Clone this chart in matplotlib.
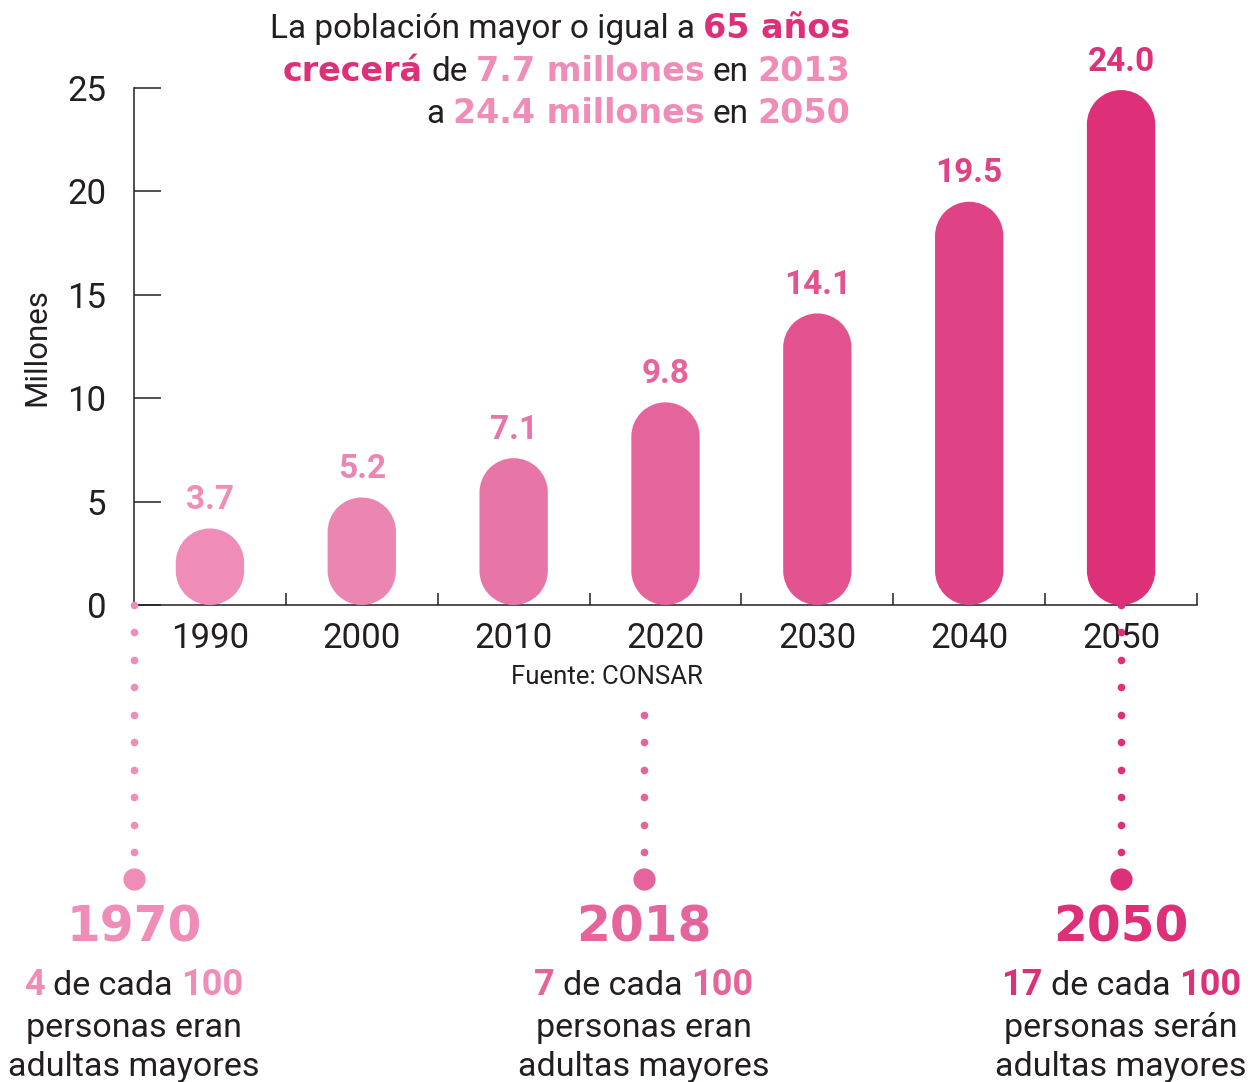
import numpy as np
import matplotlib.pyplot as plt
from matplotlib.path import Path
from matplotlib.patches import PathPatch

# data
years = ['1990', '2000', '2010', '2020', '2030', '2040', '2050']
heights = [3.7, 5.2, 7.1, 9.8, 14.1, 19.5, 24.9]   # bar tops as drawn
labels = ['3.7', '5.2', '7.1', '9.8', '14.1', '19.5', '24.0']
bar_colors = ['#ef8db8', '#eb85b1', '#e875a7', '#e5649c', '#e25390', '#df4385', '#dd3079']
yticks = [0, 5, 10, 15, 20, 25]

note_years = ['1970', '2018', '2050']
note_counts = ['4', '7', '17']
note_verbs = ['eran', 'eran', 'serán']
note_colors = ['#ef8db8', '#e5649c', '#dd3079']

DARK = '#231f20'
PINK_L = '#ef8db8'
PINK_D = '#dd3079'
REG = ['Roboto', 'DejaVu Sans']
WIDE_B = ['DejaVu Sans']
BOLD_N = ['Roboto', 'DejaVu Sans']

plt.rcParams['font.family'] = REG

W, H = 1259, 1082
fig = plt.figure(figsize=(W / 100, H / 100), dpi=100)
ax = fig.add_axes([134 / W, 1 - 605 / H, (1197 - 134) / W, (605 - 88) / H])
ax.set_xlim(-0.5, len(years) - 0.5)
ax.set_ylim(0, 25)

# capsule bars
bw = 0.45
bb = ax.get_window_extent()
px_x = bb.width / len(years)
px_y = bb.height / 25
top_arc = Path.arc(0, 180)
bot_arc = Path.arc(180, 360)
for i, (h, c) in enumerate(zip(heights, bar_colors)):
    rx = bw / 2
    ry = rx * px_x / px_y
    vt = top_arc.vertices * [rx, ry] + [i, h - ry]
    vb = bot_arc.vertices * [rx, ry] + [i, ry]
    verts = np.vstack([vt, vb, vt[:1]])
    codes = list(top_arc.codes) + [Path.LINETO] + list(bot_arc.codes[1:]) + [Path.CLOSEPOLY]
    ax.add_patch(PathPatch(Path(verts, codes), fc=c, ec='none', zorder=3))
    ax.annotate(labels[i], (i, h), xytext=(0, 9), textcoords='offset points',
                ha='center', va='bottom', fontsize=24, fontweight='bold',
                family=BOLD_N, color=c, zorder=4)

ax.set_xticks(range(len(years)))
ax.set_xticklabels(years)
ax.set_xticks(np.arange(0.5, len(years), 1), minor=True)
ax.tick_params(axis='x', which='major', length=0, pad=12, labelsize=25, labelcolor=DARK)
ax.tick_params(axis='x', which='minor', direction='in', length=9, width=1.1, color=DARK)
ax.set_yticks(yticks)
ax.tick_params(axis='y', direction='in', length=19.5, width=1.1, color=DARK, pad=20,
               labelsize=25, labelcolor=DARK)
for s in ['top', 'right']:
    ax.spines[s].set_visible(False)
for s in ['left', 'bottom']:
    ax.spines[s].set_linewidth(1.1)
    ax.spines[s].set_color(DARK)
ax.patch.set_visible(False)

# overlay in pixel coordinates for the annotations
ov = fig.add_axes([0, 0, 1, 1], zorder=5)
ov.set_xlim(0, W)
ov.set_ylim(H, 0)
ov.axis('off')

renderer = fig.canvas.get_renderer()


def width(t):
    return t.get_window_extent(renderer).width


def rich(x, y, parts, gap_style, ha='center'):
    p1 = ov.text(0, 0, 'n n', **gap_style)
    p2 = ov.text(0, 0, 'nn', **gap_style)
    gap = width(p1) - width(p2)
    p1.remove()
    p2.remove()
    arts = [ov.text(0, y, s, ha='left', va='baseline', **st) for s, st in parts]
    ws = [width(a) for a in arts]
    total = sum(ws) + gap * (len(arts) - 1)
    start = x - total / 2 if ha == 'center' else x - total
    for a, w in zip(arts, ws):
        a.set_x(start)
        start += w + gap


# title
t_reg = dict(family=REG, fontsize=24, color=DARK)
t_dk = dict(family=WIDE_B, fontsize=24, fontweight='bold', color=PINK_D)
t_lt = dict(family=WIDE_B, fontsize=24, fontweight='bold', color=PINK_L)
rich(850, 38, [('La población mayor o igual a', t_reg), ('65 años', t_dk)], t_reg, ha='right')
rich(850, 81, [('crecerá', t_dk), ('de', t_reg), ('7.7 millones', t_lt), ('en', t_reg),
               ('2013', t_lt)], t_reg, ha='right')
rich(850, 123, [('a', t_reg), ('24.4 millones', t_lt), ('en', t_reg), ('2050', t_lt)],
     t_reg, ha='right')

ov.text(37, 347, 'Millones', rotation=90, ha='center', va='center', fontsize=22.5, color=DARK)
ov.text(607, 677, 'Fuente: CONSAR', ha='center', va='center', fontsize=18.5, color=DARK)

# bottom notes
note_x = [134, 644, 1121]
dots_from = [605, 690, 605]
n_reg = dict(family=REG, fontsize=24.5, color=DARK)
for x, y0, yr, cnt, verb, c in zip(note_x, dots_from, note_years, note_counts, note_verbs, note_colors):
    ys = np.arange(852, y0 - 1, -27.5)
    ov.plot(np.full(len(ys), x), ys, 'o', ms=5.5, color=c, mec='none')
    ov.plot([x], [879], 'o', ms=16, color=c, mec='none')
    ov.text(x, 942, yr, ha='center', va='baseline', fontsize=35, fontweight='bold',
            family=WIDE_B, color=c)
    n_b = dict(family=BOLD_N, fontsize=26, fontweight='bold', color=c)
    rich(x, 995, [(cnt, n_b), ('de cada', n_reg), ('100', n_b)], n_reg)
    ov.text(x, 1037, f'personas {verb}', ha='center', va='baseline', **n_reg)
    ov.text(x, 1076, 'adultas mayores', ha='center', va='baseline', **n_reg)

fig.savefig('out.png', dpi=100)
